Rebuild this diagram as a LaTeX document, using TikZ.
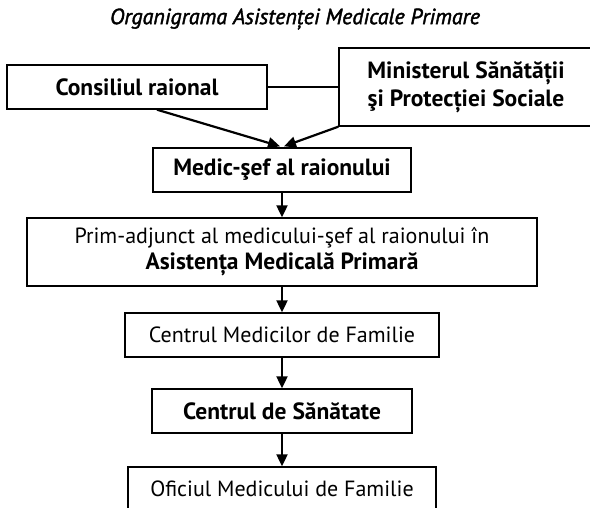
\documentclass[tikz,border=0pt]{standalone}
\usepackage{fontspec}
\setmainfont{PT Sans}
\usetikzlibrary{arrows.meta,calc}
\newcommand{\bx}{\fontsize{23.5}{28}\selectfont\bfseries}
\begin{document}
\begin{tikzpicture}[x=1pt,y=-1pt,
  box/.style={draw=black,line width=1.4pt,rectangle,inner sep=0pt,align=center,
    font=\fontsize{22}{26}\selectfont},
  arr/.style={line width=2.2pt,-{Triangle[length=12pt,width=11pt]}},
  link/.style={line width=2.2pt}]
\useasboundingbox (0,0) rectangle (590,508);
\clip (0,0) rectangle (590,508);
\node (title) at (295,19) {\fontsize{22}{24}\selectfont\itshape\addfontfeatures{FakeBold=1.8}Organigrama Asistenței Medicale Primare};
\node[box,minimum width=260pt,minimum height=44pt] (cons) at (137,87) {\bx Consiliul raional};
\node[box,minimum width=254pt,minimum height=78pt,font=\bx] (min) at (466,87) {Ministerul Sănătății\\şi Protecției Sociale};
\node[box,minimum width=258pt,minimum height=44pt] (medic) at (282,170) {\bx Medic-şef al raionului};
\node[box,minimum width=510pt,minimum height=68pt] (prim) at (282,252) {Prim-adjunct al medicului-şef al raionului în\\{\bx Asistența Medicală Primară}};
\node[box,minimum width=314pt,minimum height=44pt] (cmf) at (282,335) {Centrul Medicilor de Familie};
\node[box,minimum width=260pt,minimum height=44pt] (cs) at (282,411) {\bx Centrul de Sănătate};
\node[box,minimum width=308pt,minimum height=44pt] (omf) at (282,489) {Oficiul Medicului de Familie};
\draw[link] (cons.east) -- (min.west |- cons.east);
\draw[arr] ($(cons.south)+(20,0)$) -- ($(medic.north)+(-2,-1)$);
\draw[arr] (min.south west) -- ($(medic.north)+(2,-1)$);
\draw[arr] (medic.south) -- (prim.north);
\draw[arr] (prim.south) -- (cmf.north);
\draw[arr] (cmf.south) -- (cs.north);
\draw[arr] (cs.south) -- (omf.north);
\end{tikzpicture}
\end{document}
